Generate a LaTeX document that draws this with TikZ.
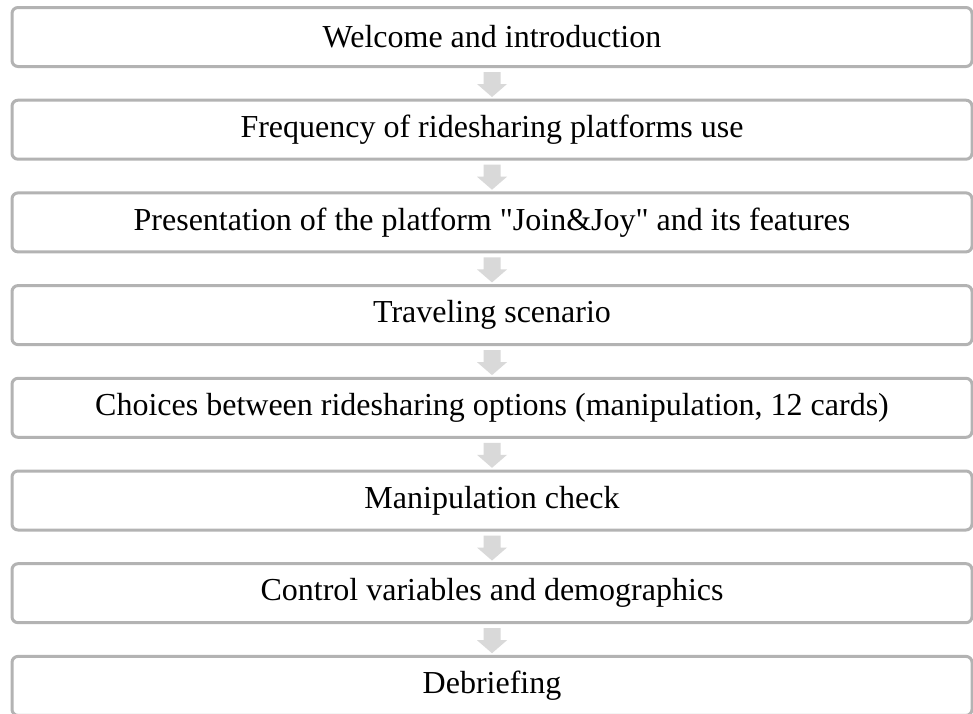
\documentclass[tikz,border=0pt]{standalone}
\usepackage{fontspec}
\setmainfont{Liberation Serif}[Ligatures=TeXOff]
\usetikzlibrary{calc}
\definecolor{boxline}{HTML}{B3B3B3}
\definecolor{arrowfill}{HTML}{D9D9D9}
\tikzset{
  stagebox/.style={draw=boxline, line width=3pt, rounded corners=6pt, fill=white,
    minimum width=960pt, minimum height=59pt, inner sep=0pt, anchor=center,
    font=\fontsize{32}{38}\selectfont, text=black},
  blockarrow/.style={fill=arrowfill, draw=none}
}
\newcommand{\downarrowshape}[2]{%
  \fill[blockarrow] ($(#1.south)+(-8.5,4)$) -- ($(#1.south)+(8.5,4)$) -- ($(#1.south)+(8.5,16)$)
    -- ($(#1.south)+(15,16)$) -- ($(#1.south)+(0,29)$) -- ($(#1.south)+(-15,16)$)
    -- ($(#1.south)+(-8.5,16)$) -- cycle;}
\begin{document}
\begin{tikzpicture}[x=1pt,y=-1pt]
\useasboundingbox (0,0) rectangle (973,713);
\fill[white] (0,0) rectangle (973,713);
\node[stagebox] (b1) at (492,37.0) {Welcome and introduction};
\node[stagebox] (b2) at (492,129.7) {Frequency of ridesharing platforms use};
\node[stagebox] (b3) at (492,222.4) {Presentation of the platform "Join\&Joy" and its features};
\node[stagebox] (b4) at (492,315.1) {Traveling scenario};
\node[stagebox] (b5) at (492,407.8) {Choices between ridesharing options (manipulation, 12 cards)};
\node[stagebox] (b6) at (492,500.5) {Manipulation check};
\node[stagebox] (b7) at (492,593.2) {Control variables and demographics};
\node[stagebox] (b8) at (492,685.9) {Debriefing};
\foreach \n in {b1,b2,b3,b4,b5,b6,b7}{\downarrowshape{\n}{}}
\end{tikzpicture}
\end{document}
